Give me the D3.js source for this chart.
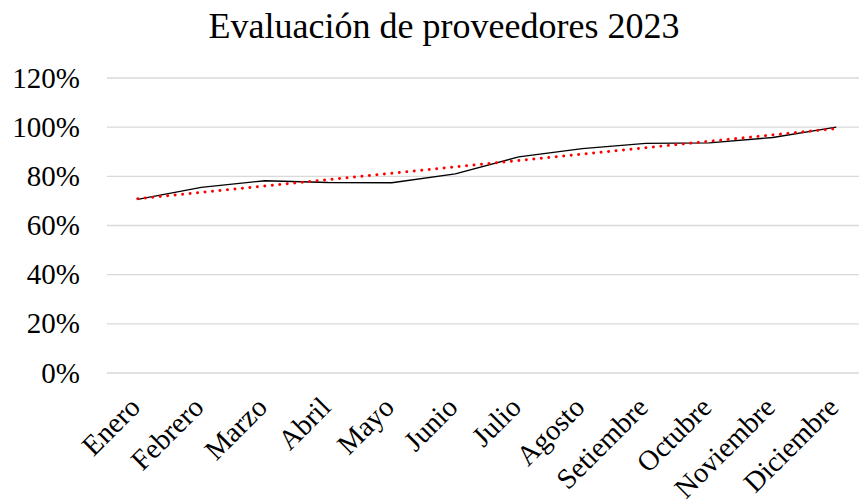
<!DOCTYPE html>
<html>
<head>
<meta charset="utf-8">
<script src="https://cdn.jsdelivr.net/npm/d3@7"></script>
<style>
  html, body { margin: 0; padding: 0; background: #fff; }
  text { font-family: "Liberation Serif", "Times New Roman", serif; fill: #000; }
</style>
</head>
<body>
<svg id="chart" width="859" height="504"></svg>
<script>
const title = "Evaluación de proveedores 2023";
const months = ["Enero","Febrero","Marzo","Abril","Mayo","Junio","Julio","Agosto","Setiembre","Octubre","Noviembre","Diciembre"];
const values = [0.706, 0.755, 0.782, 0.775, 0.774, 0.81, 0.879, 0.913, 0.934, 0.936, 0.958, 1.0];
const yTicks = [0, 0.2, 0.4, 0.6, 0.8, 1.0, 1.2];

(function () {
const svg = d3.select("#chart");
const pLeft = 106, pRight = 868, pTop = 78, pBottom = 373;

const x = d3.scaleBand().domain(months).range([pLeft, pRight]).paddingInner(0).paddingOuter(0);
const y = d3.scaleLinear().domain([0, 1.2]).range([pBottom, pTop]);
const cx = m => x(m) + x.bandwidth() / 2;

// gridlines
svg.append("g").selectAll("line").data(yTicks).join("line")
  .attr("x1", pLeft + 1).attr("x2", pRight)
  .attr("y1", d => y(d)).attr("y2", d => y(d))
  .attr("stroke", "#d9d9d9").attr("stroke-width", 1.3);

// y labels
svg.append("g").selectAll("text").data(yTicks).join("text")
  .attr("x", 80).attr("y", d => y(d))
  .attr("dy", "0.33em")
  .attr("text-anchor", "end")
  .attr("font-size", 29)
  .text(d => d3.format(".0%")(d));

// x labels
svg.append("g").selectAll("text").data(months).join("text")
  .attr("transform", d => `translate(${cx(d) + 4},${pBottom + 36}) rotate(-45)`)
  .attr("text-anchor", "end")
  .attr("font-size", 28.5)
  .text(d => d);

// data line
const line = d3.line().x((d, i) => cx(months[i])).y(d => y(d));
svg.append("path").datum(values)
  .attr("d", line)
  .attr("fill", "none")
  .attr("stroke", "#000")
  .attr("stroke-width", 1.3);

// linear trendline (least squares on the data)
const n = values.length;
const xs = d3.range(n);
const xm = d3.mean(xs), ym = d3.mean(values);
const slope = d3.sum(xs, i => (i - xm) * (values[i] - ym)) / d3.sum(xs, i => (i - xm) ** 2);
const intercept = ym - slope * xm;
const trend = [0, n - 1].map(i => [cx(months[i]), y(intercept + slope * i)]);
svg.append("path")
  .attr("d", d3.line()(trend))
  .attr("fill", "none")
  .attr("stroke", "#ff0000")
  .attr("stroke-width", 3)
  .attr("stroke-linecap", "round")
  .attr("stroke-dasharray", "0.01 7.5");

// title
svg.append("text")
  .attr("x", 444).attr("y", 38)
  .attr("text-anchor", "middle")
  .attr("font-size", 36)
  .text(title);
})();
</script>
</body>
</html>
